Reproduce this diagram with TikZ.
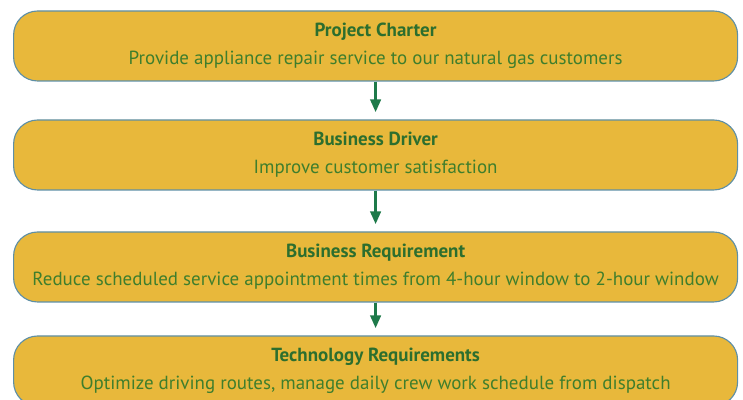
\documentclass[tikz,border=0pt]{standalone}
\usepackage{fontspec}
\setmainfont{PT Sans}
\usetikzlibrary{arrows.meta}

\definecolor{boxgold}{HTML}{E8B83B}
\definecolor{edgeblue}{HTML}{5E8FA6}
\definecolor{headgreen}{HTML}{2C6E2E}
\definecolor{textgreen}{HTML}{3F7E2C}
\definecolor{arrowgreen}{HTML}{1E7A4A}

\begin{document}
\begin{tikzpicture}[line width=0.8pt,
	stage/.style={draw=edgeblue, fill=boxgold, rounded corners=0.6cm,
		minimum width=18.1cm, minimum height=1.75cm, align=center,
		text=textgreen, font=\fontsize{13.5}{20}\selectfont},
	flow/.style={-{Triangle[width=0.26cm,length=0.32cm]}, color=arrowgreen,
		line width=2pt, shorten >=0.18cm}]

\useasboundingbox (0,0) rectangle (18.575,10);

\node[stage] (charter) at (9.39,8.85)
	{{\color{headgreen}\bfseries Project Charter}\\Provide appliance repair service to our natural gas customers};
\node[stage] (driver) at (9.39,6.125)
	{{\color{headgreen}\bfseries Business Driver}\\Improve customer satisfaction};
\node[stage] (requirement) at (9.39,3.325)
	{{\color{headgreen}\bfseries Business Requirement}\\Reduce scheduled service appointment times from 4-hour window to 2-hour window};
\node[stage] (technology) at (9.39,0.725)
	{{\color{headgreen}\bfseries Technology Requirements}\\Optimize driving routes, manage daily crew work schedule from dispatch};

%arrows between the stages
\foreach \a/\b in {charter/driver,driver/requirement,requirement/technology}
	\draw[flow] (\a.south) -- (\b.north);

\end{tikzpicture}
\end{document}
